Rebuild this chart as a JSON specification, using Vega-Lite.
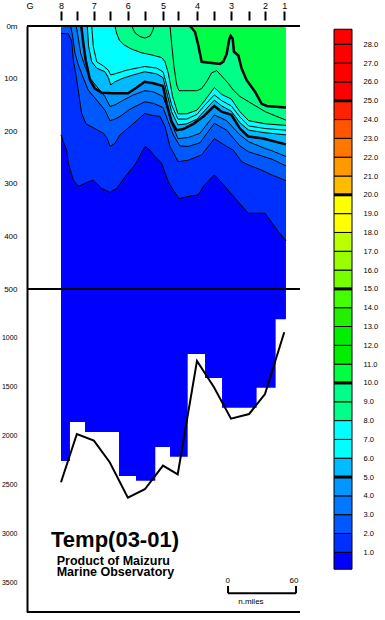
{
  "$schema": "https://vega.github.io/schema/vega-lite/v6.json",
  "width": 273,
  "height": 586,
  "autosize": {"type": "none"},
  "padding": {"left": 27, "top": 26, "right": 85, "bottom": 8},
  "background": "white",
  "config": {"view": {"stroke": null}, "font": "Liberation Sans", "text": {"font": "Liberation Sans", "color": "black"}},
  "datasets": {
    "bars": [
      {"dist": 0, "depth": 2257},
      {"dist": 7.9, "depth": 1859},
      {"dist": 21.2, "depth": 1961},
      {"dist": 36.1, "depth": 1961},
      {"dist": 51.2, "depth": 2410},
      {"dist": 66.2, "depth": 2458},
      {"dist": 83.2, "depth": 2114},
      {"dist": 96.2, "depth": 2213},
      {"dist": 111.8, "depth": 1164},
      {"dist": 127.1, "depth": 1409},
      {"dist": 142.1, "depth": 1712},
      {"dist": 158.0, "depth": 1712},
      {"dist": 172.6, "depth": 1508},
      {"dist": 189.4, "depth": 810},
      {"dist": 198.5, "depth": 810}
    ],
    "topo": [
      {"dist": 0, "depth": 2475}, {"dist": 14, "depth": 1981}, {"dist": 29, "depth": 2049},
      {"dist": 43, "depth": 2270}, {"dist": 59, "depth": 2632}, {"dist": 74, "depth": 2546},
      {"dist": 90, "depth": 2305}, {"dist": 103, "depth": 2393}, {"dist": 120, "depth": 1235},
      {"dist": 135, "depth": 1504}, {"dist": 150, "depth": 1825}, {"dist": 166, "depth": 1777},
      {"dist": 180, "depth": 1573}, {"dist": 197, "depth": 942}
    ],
    "bands": [
      {"t": 0, "lo": 0.1, "hi": 1}, {"t": 1, "lo": 1, "hi": 2}, {"t": 2, "lo": 2, "hi": 3},
      {"t": 3, "lo": 3, "hi": 4}, {"t": 4, "lo": 4, "hi": 5}, {"t": 5, "lo": 5, "hi": 6},
      {"t": 6, "lo": 6, "hi": 7}, {"t": 7, "lo": 7, "hi": 8}, {"t": 8, "lo": 8, "hi": 9},
      {"t": 9, "lo": 9, "hi": 10}, {"t": 10, "lo": 10, "hi": 11}, {"t": 11, "lo": 11, "hi": 12},
      {"t": 12, "lo": 12, "hi": 13}, {"t": 13, "lo": 13, "hi": 14}, {"t": 14, "lo": 14, "hi": 15},
      {"t": 15, "lo": 15, "hi": 16}, {"t": 16, "lo": 16, "hi": 17}, {"t": 17, "lo": 17, "hi": 18},
      {"t": 18, "lo": 18, "hi": 19}, {"t": 19, "lo": 19, "hi": 20}, {"t": 20, "lo": 20, "hi": 21},
      {"t": 21, "lo": 21, "hi": 22}, {"t": 22, "lo": 22, "hi": 23}, {"t": 23, "lo": 23, "hi": 24},
      {"t": 24, "lo": 24, "hi": 25}, {"t": 25, "lo": 25, "hi": 26}, {"t": 26, "lo": 26, "hi": 27},
      {"t": 27, "lo": 27, "hi": 28}, {"t": 28, "lo": 28, "hi": 28.8}
    ],
    "iso": [
      {"t":1,"s":"1","dist":0,"depth":207},{"t":1,"s":"1","dist":2.6,"depth":223},{"t":1,"s":"1","dist":5.0,"depth":236},
      {"t":1,"s":"1","dist":6.5,"depth":261},{"t":1,"s":"1","dist":10.9,"depth":293},{"t":1,"s":"1","dist":15.3,"depth":305},
      {"t":1,"s":"1","dist":21.2,"depth":299},{"t":1,"s":"1","dist":28.5,"depth":293},{"t":1,"s":"1","dist":35.9,"depth":309},
      {"t":1,"s":"1","dist":43.2,"depth":316},{"t":1,"s":"1","dist":49.1,"depth":309},{"t":1,"s":"1","dist":57.9,"depth":283},
      {"t":1,"s":"1","dist":65.3,"depth":264},{"t":1,"s":"1","dist":74.1,"depth":229},{"t":1,"s":"1","dist":78.5,"depth":236},
      {"t":1,"s":"1","dist":82.9,"depth":248},{"t":1,"s":"1","dist":88.8,"depth":261},{"t":1,"s":"1","dist":94.7,"depth":296},
      {"t":1,"s":"1","dist":99.1,"depth":312},{"t":1,"s":"1","dist":104.1,"depth":328},{"t":1,"s":"1","dist":112.4,"depth":324},
      {"t":1,"s":"1","dist":121.2,"depth":321},{"t":1,"s":"1","dist":125.6,"depth":305},{"t":1,"s":"1","dist":135.3,"depth":283},
      {"t":1,"s":"1","dist":144.7,"depth":305},{"t":1,"s":"1","dist":155.0,"depth":331},{"t":1,"s":"1","dist":165.3,"depth":356},
      {"t":1,"s":"1","dist":180.0,"depth":356},{"t":1,"s":"1","dist":191.8,"depth":391},{"t":1,"s":"1","dist":198.5,"depth":408},

      {"t":2,"s":"2","dist":0,"depth":14},{"t":2,"s":"2","dist":6.5,"depth":15},{"t":2,"s":"2","dist":9.4,"depth":28},
      {"t":2,"s":"2","dist":10.9,"depth":65},{"t":2,"s":"2","dist":13.2,"depth":93},{"t":2,"s":"2","dist":15.6,"depth":128},
      {"t":2,"s":"2","dist":18.2,"depth":166},{"t":2,"s":"2","dist":22.1,"depth":186},{"t":2,"s":"2","dist":29.1,"depth":194},
      {"t":2,"s":"2","dist":37.4,"depth":204},{"t":2,"s":"2","dist":40.9,"depth":214},{"t":2,"s":"2","dist":43.2,"depth":229},
      {"t":2,"s":"2","dist":47.6,"depth":223},{"t":2,"s":"2","dist":52.1,"depth":207},{"t":2,"s":"2","dist":60.9,"depth":191},
      {"t":2,"s":"2","dist":74.1,"depth":166},{"t":2,"s":"2","dist":78.5,"depth":169},{"t":2,"s":"2","dist":87.4,"depth":172},
      {"t":2,"s":"2","dist":91.8,"depth":191},{"t":2,"s":"2","dist":96.2,"depth":229},{"t":2,"s":"2","dist":103.5,"depth":258},
      {"t":2,"s":"2","dist":112.4,"depth":255},{"t":2,"s":"2","dist":124.1,"depth":245},{"t":2,"s":"2","dist":135.3,"depth":214},
      {"t":2,"s":"2","dist":146.2,"depth":229},{"t":2,"s":"2","dist":152.1,"depth":236},{"t":2,"s":"2","dist":159.4,"depth":258},
      {"t":2,"s":"2","dist":165.3,"depth":264},{"t":2,"s":"2","dist":177.1,"depth":274},{"t":2,"s":"2","dist":185.9,"depth":283},
      {"t":2,"s":"2","dist":198.5,"depth":294},

      {"t":3,"s":"3","dist":8.5,"depth":0},{"t":3,"s":"3","dist":10.3,"depth":20},{"t":3,"s":"3","dist":12.4,"depth":52},
      {"t":3,"s":"3","dist":15.3,"depth":74},{"t":3,"s":"3","dist":19.7,"depth":99},{"t":3,"s":"3","dist":24.1,"depth":122},
      {"t":3,"s":"3","dist":31.5,"depth":141},{"t":3,"s":"3","dist":38.8,"depth":160},{"t":3,"s":"3","dist":43.2,"depth":180},
      {"t":3,"s":"3","dist":47.6,"depth":177},{"t":3,"s":"3","dist":52.1,"depth":172},{"t":3,"s":"3","dist":60.9,"depth":158},
      {"t":3,"s":"3","dist":74.1,"depth":144},{"t":3,"s":"3","dist":81.5,"depth":147},{"t":3,"s":"3","dist":90.0,"depth":155},
      {"t":3,"s":"3","dist":94.7,"depth":182},{"t":3,"s":"3","dist":99.1,"depth":207},{"t":3,"s":"3","dist":104.9,"depth":228},
      {"t":3,"s":"3","dist":112.4,"depth":229},{"t":3,"s":"3","dist":122.6,"depth":222},{"t":3,"s":"3","dist":135.3,"depth":185},
      {"t":3,"s":"3","dist":146.2,"depth":198},{"t":3,"s":"3","dist":157.9,"depth":228},{"t":3,"s":"3","dist":165.3,"depth":239},
      {"t":3,"s":"3","dist":171.2,"depth":243},{"t":3,"s":"3","dist":185.9,"depth":253},{"t":3,"s":"3","dist":198.5,"depth":266},

      {"t":4,"s":"4","dist":13.5,"depth":0},{"t":4,"s":"4","dist":15.0,"depth":20},{"t":4,"s":"4","dist":17.4,"depth":52},
      {"t":4,"s":"4","dist":21.2,"depth":77},{"t":4,"s":"4","dist":25.6,"depth":99},{"t":4,"s":"4","dist":31.5,"depth":115},
      {"t":4,"s":"4","dist":38.8,"depth":134},{"t":4,"s":"4","dist":43.2,"depth":153},{"t":4,"s":"4","dist":47.6,"depth":150},
      {"t":4,"s":"4","dist":55.0,"depth":141},{"t":4,"s":"4","dist":63.8,"depth":131},{"t":4,"s":"4","dist":74.1,"depth":123},
      {"t":4,"s":"4","dist":81.5,"depth":125},{"t":4,"s":"4","dist":90.0,"depth":134},{"t":4,"s":"4","dist":93.2,"depth":153},
      {"t":4,"s":"4","dist":97.6,"depth":185},{"t":4,"s":"4","dist":103.2,"depth":214},{"t":4,"s":"4","dist":112.4,"depth":212},
      {"t":4,"s":"4","dist":122.6,"depth":204},{"t":4,"s":"4","dist":135.3,"depth":169},{"t":4,"s":"4","dist":146.2,"depth":180},
      {"t":4,"s":"4","dist":157.9,"depth":207},{"t":4,"s":"4","dist":165.6,"depth":220},{"t":4,"s":"4","dist":180.3,"depth":233},
      {"t":4,"s":"4","dist":185.9,"depth":237},{"t":4,"s":"4","dist":198.5,"depth":248},

      {"t":5,"s":"5","dist":17.9,"depth":0},{"t":5,"s":"5","dist":19.7,"depth":33},{"t":5,"s":"5","dist":21.8,"depth":65},
      {"t":5,"s":"5","dist":25.6,"depth":103},{"t":5,"s":"5","dist":30.0,"depth":119},{"t":5,"s":"5","dist":35.9,"depth":127},
      {"t":5,"s":"5","dist":46.2,"depth":128},{"t":5,"s":"5","dist":59.1,"depth":128},{"t":5,"s":"5","dist":66.8,"depth":117},
      {"t":5,"s":"5","dist":73.8,"depth":106},{"t":5,"s":"5","dist":81.5,"depth":109},{"t":5,"s":"5","dist":90.0,"depth":114},
      {"t":5,"s":"5","dist":93.2,"depth":147},{"t":5,"s":"5","dist":97.6,"depth":182},{"t":5,"s":"5","dist":102.1,"depth":198},
      {"t":5,"s":"5","dist":107.9,"depth":196},{"t":5,"s":"5","dist":116.8,"depth":186},{"t":5,"s":"5","dist":125.6,"depth":172},
      {"t":5,"s":"5","dist":135.3,"depth":152},{"t":5,"s":"5","dist":141.8,"depth":163},{"t":5,"s":"5","dist":150.3,"depth":169},
      {"t":5,"s":"5","dist":157.9,"depth":195},{"t":5,"s":"5","dist":165.3,"depth":210},{"t":5,"s":"5","dist":178.5,"depth":214},
      {"t":5,"s":"5","dist":198.5,"depth":225},

      {"t":6,"s":"6","dist":23.2,"depth":0},{"t":6,"s":"6","dist":24.4,"depth":39},{"t":6,"s":"6","dist":27.1,"depth":68},
      {"t":6,"s":"6","dist":31.5,"depth":80},{"t":6,"s":"6","dist":38.8,"depth":87},{"t":6,"s":"6","dist":41.8,"depth":98},
      {"t":6,"s":"6","dist":43.8,"depth":112},{"t":6,"s":"6","dist":47.6,"depth":106},{"t":6,"s":"6","dist":55.0,"depth":99},
      {"t":6,"s":"6","dist":63.8,"depth":93},{"t":6,"s":"6","dist":73.8,"depth":87},{"t":6,"s":"6","dist":84.4,"depth":91},
      {"t":6,"s":"6","dist":90.0,"depth":98},{"t":6,"s":"6","dist":93.2,"depth":125},{"t":6,"s":"6","dist":97.6,"depth":163},
      {"t":6,"s":"6","dist":103.2,"depth":188},{"t":6,"s":"6","dist":110.9,"depth":186},{"t":6,"s":"6","dist":120.0,"depth":177},
      {"t":6,"s":"6","dist":127.1,"depth":160},{"t":6,"s":"6","dist":135.3,"depth":141},{"t":6,"s":"6","dist":141.8,"depth":152},
      {"t":6,"s":"6","dist":150.3,"depth":162},{"t":6,"s":"6","dist":157.9,"depth":184},{"t":6,"s":"6","dist":165.6,"depth":198},
      {"t":6,"s":"6","dist":180.3,"depth":203},{"t":6,"s":"6","dist":198.5,"depth":207},

      {"t":7,"s":"7","dist":27.1,"depth":0},{"t":7,"s":"7","dist":28.5,"depth":39},{"t":7,"s":"7","dist":31.5,"depth":68},
      {"t":7,"s":"7","dist":37.4,"depth":76},{"t":7,"s":"7","dist":41.8,"depth":84},{"t":7,"s":"7","dist":43.8,"depth":93},
      {"t":7,"s":"7","dist":47.6,"depth":91},{"t":7,"s":"7","dist":57.9,"depth":84},{"t":7,"s":"7","dist":73.8,"depth":77},
      {"t":7,"s":"7","dist":84.4,"depth":80},{"t":7,"s":"7","dist":90.0,"depth":87},{"t":7,"s":"7","dist":93.2,"depth":112},
      {"t":7,"s":"7","dist":97.6,"depth":150},{"t":7,"s":"7","dist":103.2,"depth":177},{"t":7,"s":"7","dist":110.9,"depth":177},
      {"t":7,"s":"7","dist":120.0,"depth":168},{"t":7,"s":"7","dist":127.1,"depth":150},{"t":7,"s":"7","dist":135.3,"depth":131},
      {"t":7,"s":"7","dist":141.8,"depth":142},{"t":7,"s":"7","dist":150.3,"depth":152},{"t":7,"s":"7","dist":157.9,"depth":173},
      {"t":7,"s":"7","dist":165.6,"depth":190},{"t":7,"s":"7","dist":180.3,"depth":195},{"t":7,"s":"7","dist":198.5,"depth":198},

      {"t":8,"s":"8","dist":47.6,"depth":0},{"t":8,"s":"8","dist":49.1,"depth":14},{"t":8,"s":"8","dist":51.5,"depth":27},
      {"t":8,"s":"8","dist":55.6,"depth":36},{"t":8,"s":"8","dist":62.4,"depth":44},{"t":8,"s":"8","dist":71.2,"depth":51},
      {"t":8,"s":"8","dist":80.0,"depth":55},{"t":8,"s":"8","dist":88.8,"depth":60},{"t":8,"s":"8","dist":91.8,"depth":68},
      {"t":8,"s":"8","dist":94.7,"depth":90},{"t":8,"s":"8","dist":98.5,"depth":134},{"t":8,"s":"8","dist":103.2,"depth":167},
      {"t":8,"s":"8","dist":110.9,"depth":167},{"t":8,"s":"8","dist":120.0,"depth":160},{"t":8,"s":"8","dist":127.1,"depth":141},
      {"t":8,"s":"8","dist":135.3,"depth":117},{"t":8,"s":"8","dist":141.8,"depth":130},{"t":8,"s":"8","dist":150.3,"depth":139},
      {"t":8,"s":"8","dist":157.9,"depth":163},{"t":8,"s":"8","dist":165.6,"depth":180},{"t":8,"s":"8","dist":180.3,"depth":186},
      {"t":8,"s":"8","dist":198.5,"depth":189},

      {"t":9,"s":"9b","dist":62.4,"depth":0},{"t":9,"s":"9b","dist":65.3,"depth":13},{"t":9,"s":"9b","dist":69.7,"depth":20},
      {"t":9,"s":"9b","dist":74.1,"depth":23},{"t":9,"s":"9b","dist":78.5,"depth":19},{"t":9,"s":"9b","dist":80.9,"depth":9},
      {"t":9,"s":"9b","dist":82.1,"depth":0},

      {"t":9,"s":"9","dist":96.2,"depth":0},{"t":9,"s":"9","dist":97.6,"depth":33},{"t":9,"s":"9","dist":99.7,"depth":77},
      {"t":9,"s":"9","dist":102.1,"depth":112},{"t":9,"s":"9","dist":104.1,"depth":123},{"t":9,"s":"9","dist":119.7,"depth":123},
      {"t":9,"s":"9","dist":124.1,"depth":119},{"t":9,"s":"9","dist":128.5,"depth":106},{"t":9,"s":"9","dist":132.9,"depth":89},
      {"t":9,"s":"9","dist":137.4,"depth":85},{"t":9,"s":"9","dist":141.8,"depth":95},{"t":9,"s":"9","dist":147.6,"depth":109},
      {"t":9,"s":"9","dist":152.1,"depth":122},{"t":9,"s":"9","dist":157.9,"depth":134},{"t":9,"s":"9","dist":165.6,"depth":144},
      {"t":9,"s":"9","dist":180.3,"depth":163},{"t":9,"s":"9","dist":198.5,"depth":179},

      {"t":10,"s":"10","dist":113.8,"depth":0},{"t":10,"s":"10","dist":118.2,"depth":11},{"t":10,"s":"10","dist":121.2,"depth":37},
      {"t":10,"s":"10","dist":124.1,"depth":68},{"t":10,"s":"10","dist":140.3,"depth":72},{"t":10,"s":"10","dist":143.2,"depth":68},
      {"t":10,"s":"10","dist":146.2,"depth":53},{"t":10,"s":"10","dist":148.5,"depth":25},{"t":10,"s":"10","dist":149.7,"depth":19},
      {"t":10,"s":"10","dist":151.5,"depth":24},{"t":10,"s":"10","dist":152.6,"depth":49},{"t":10,"s":"10","dist":156.5,"depth":56},
      {"t":10,"s":"10","dist":159.4,"depth":81},{"t":10,"s":"10","dist":163.8,"depth":103},{"t":10,"s":"10","dist":171.2,"depth":125},
      {"t":10,"s":"10","dist":177.1,"depth":148},{"t":10,"s":"10","dist":181.5,"depth":152},{"t":10,"s":"10","dist":198.5,"depth":155}
    ]
  },
  "layer": [
    {
      "encoding": {
        "x": {
          "field": "dist", "type": "quantitative",
          "scale": {"domain": [-30, 210.9], "nice": false, "zero": false},
          "axis": {
            "orient": "top", "offset": 6, "domain": false, "grid": false, "title": null,
            "values": [-27.8, 0, 14, 29, 43, 59, 74, 90, 103, 120, 135, 150, 166, 180, 197],
            "labelExpr": "datum.value < 0 ? 'G' : ['8','','7','','6','','5','','4','','3','','2','1'][indexof([0,14,29,43,59,74,90,103,120,135,150,166,180,197], datum.value)]",
            "tickSize": 9, "tickWidth": 2, "tickColor": "black",
            "tickOpacity": {"condition": {"test": "datum.value < 0", "value": 0}, "value": 1},
            "labelFont": "Liberation Sans", "labelFontSize": 9, "labelColor": "black", "labelPadding": 1,
            "labelFlush": false, "labelOverlap": false
          }
        },
        "y": {
          "field": "depth", "type": "quantitative",
          "scale": {"domain": [0, 500, 3800], "range": [0, 263, 586], "nice": false, "zero": false},
          "axis": {
            "orient": "left", "grid": false, "title": null, "domain": true, "domainColor": "black", "domainWidth": 2,
            "ticks": false, "tickSize": 0, "labelPadding": 10,
            "values": [0, 100, 200, 300, 400, 500, 1000, 1500, 2000, 2500, 3000, 3500],
            "format": "d",
            "labelExpr": "datum.value == 0 ? '0m' : datum.label",
            "labelFont": "Liberation Sans", "labelColor": "black",
            "labelFontSize": {"condition": {"test": "datum.value >= 1000", "value": 7}, "value": 8},
            "labelFlush": false, "labelOverlap": false
          }
        }
      },
      "layer": [
        {
          "data": {"name": "bars"},
          "mark": {"type": "area", "color": "#0000FF", "interpolate": "step-after"},
          "encoding": {"y2": {"datum": 0}}
        },
        {"data": {"name": "iso"}, "transform": [{"filter": "datum.t == 1"}], "mark": {"type": "area"},
         "encoding": {"y2": {"datum": 0}, "detail": {"field": "s"}, "color": {"field": "t", "type": "ordinal", "legend": null,
           "scale": {"domain": [0,1,2,3,4,5,6,7,8,9,10,11,12,13,14,15,16,17,18,19,20,21,22,23,24,25,26,27,28],
             "range": ["#0000FF","#0030FF","#0058FF","#0078FF","#0098FF","#00BBFF","#00FFFF","#00FFFF","#00FF88","#00FF88","#00FF44","#00EE00","#00EE00","#22F000","#44FF00","#77FF00","#99FF00","#BBFF00","#FFFF00","#FFFF00","#FFBB00","#FF9900","#FF7700","#FF5500","#FF2200","#FF0000","#FF0000","#FF0000","#FF0000"]}}}},
        {"data": {"name": "iso"}, "transform": [{"filter": "datum.t == 2"}], "mark": {"type": "area"},
         "encoding": {"y2": {"datum": 0}, "detail": {"field": "s"}, "color": {"field": "t", "type": "ordinal", "legend": null}}},
        {"data": {"name": "iso"}, "transform": [{"filter": "datum.t == 3"}], "mark": {"type": "area"},
         "encoding": {"y2": {"datum": 0}, "detail": {"field": "s"}, "color": {"field": "t", "type": "ordinal", "legend": null}}},
        {"data": {"name": "iso"}, "transform": [{"filter": "datum.t == 4"}], "mark": {"type": "area"},
         "encoding": {"y2": {"datum": 0}, "detail": {"field": "s"}, "color": {"field": "t", "type": "ordinal", "legend": null}}},
        {"data": {"name": "iso"}, "transform": [{"filter": "datum.t == 5"}], "mark": {"type": "area"},
         "encoding": {"y2": {"datum": 0}, "detail": {"field": "s"}, "color": {"field": "t", "type": "ordinal", "legend": null}}},
        {"data": {"name": "iso"}, "transform": [{"filter": "datum.t == 6"}], "mark": {"type": "area"},
         "encoding": {"y2": {"datum": 0}, "detail": {"field": "s"}, "color": {"field": "t", "type": "ordinal", "legend": null}}},
        {"data": {"name": "iso"}, "transform": [{"filter": "datum.t == 7"}], "mark": {"type": "area"},
         "encoding": {"y2": {"datum": 0}, "detail": {"field": "s"}, "color": {"field": "t", "type": "ordinal", "legend": null}}},
        {"data": {"name": "iso"}, "transform": [{"filter": "datum.t == 8"}], "mark": {"type": "area"},
         "encoding": {"y2": {"datum": 0}, "detail": {"field": "s"}, "color": {"field": "t", "type": "ordinal", "legend": null}}},
        {"data": {"name": "iso"}, "transform": [{"filter": "datum.t == 9"}], "mark": {"type": "area"},
         "encoding": {"y2": {"datum": 0}, "detail": {"field": "s"}, "color": {"field": "t", "type": "ordinal", "legend": null}}},
        {"data": {"name": "iso"}, "transform": [{"filter": "datum.t == 10"}], "mark": {"type": "area"},
         "encoding": {"y2": {"datum": 0}, "detail": {"field": "s"}, "color": {"field": "t", "type": "ordinal", "legend": null}}},
        {
          "data": {"name": "iso"},
          "mark": {"type": "line", "color": "black"},
          "encoding": {
            "detail": {"field": "s"},
            "strokeWidth": {"condition": {"test": "datum.t == 5 || datum.t == 10", "value": 2.5}, "value": 1}
          }
        },
        {
          "data": {"name": "topo"},
          "mark": {"type": "line", "color": "black", "strokeWidth": 2},
          "encoding": {}
        },
        {
          "data": {"values": [{"depth": 0}, {"depth": 500}, {"depth": 3800}]},
          "mark": {"type": "rule", "color": "black", "strokeWidth": 2},
          "encoding": {"x": null}
        },
        {
          "data": {"values": [{"dist": -8.8, "depth": 3140, "label": "Temp(03-01)"}]},
          "mark": {"type": "text", "align": "left", "baseline": "alphabetic", "fontSize": 22, "fontWeight": "bold", "font": "Liberation Sans", "color": "black"},
          "encoding": {"text": {"field": "label"}}
        },
        {
          "data": {"values": [
            {"dist": -3.8, "depth": 3319, "label": "Product of Maizuru\nMarine Observatory"}
          ]},
          "mark": {"type": "text", "align": "left", "baseline": "alphabetic", "fontSize": 12.5, "fontWeight": "bold", "font": "Liberation Sans", "color": "black", "lineBreak": "\n", "lineHeight": 11},
          "encoding": {"text": {"field": "label"}}
        },
        {
          "data": {"values": [
            {"dist": 147.1, "depth": 3483, "label": "0"},
            {"dist": 205.6, "depth": 3483, "label": "60"},
            {"dist": 167.6, "depth": 3700, "label": "n.miles"}
          ]},
          "mark": {"type": "text", "align": "center", "baseline": "middle", "fontSize": 8, "font": "Liberation Sans", "color": "black"},
          "encoding": {"text": {"field": "label"}}
        },
        {
          "data": {"values": [
            {"dist": 147.4, "dist2": 207.4, "depth": 3608, "depth2": 3608},
            {"dist": 147.4, "dist2": 147.4, "depth": 3534, "depth2": 3608},
            {"dist": 207.4, "dist2": 207.4, "depth": 3534, "depth2": 3608}
          ]},
          "mark": {"type": "rule", "color": "black", "strokeWidth": 2},
          "encoding": {"x2": {"field": "dist2"}, "y2": {"field": "depth2"}}
        }
      ]
    },
    {
      "data": {"name": "bands"},
      "encoding": {
        "x": {"datum": 0, "type": "quantitative", "scale": {"domain": [0, 1], "range": [307, 325], "nice": false, "zero": false}, "axis": null},
        "y": {
          "field": "lo", "type": "quantitative",
          "scale": {"domain": [0, 28], "range": [545.1, 18.3], "nice": false, "zero": false},
          "axis": {
            "orient": "right", "offset": 52, "domain": false, "ticks": false, "tickSize": 0, "grid": false, "title": null,
            "values": [1,2,3,4,5,6,7,8,9,10,11,12,13,14,15,16,17,18,19,20,21,22,23,24,25,26,27,28],
            "format": ".1f", "labelPadding": 11, "labelFont": "Liberation Sans", "labelFontSize": 7.5,
            "labelColor": "black", "labelFlush": false, "labelOverlap": false
          }
        }
      },
      "layer": [
        {
          "mark": {"type": "rect", "stroke": "black", "strokeWidth": 1},
          "encoding": {
            "x2": {"datum": 1},
            "y2": {"field": "hi"},
            "color": {"field": "t", "type": "ordinal", "legend": null,
              "scale": {"domain": [0,1,2,3,4,5,6,7,8,9,10,11,12,13,14,15,16,17,18,19,20,21,22,23,24,25,26,27,28],
                "range": ["#0000FF","#0030FF","#0058FF","#0078FF","#0098FF","#00BBFF","#00FFFF","#00FFFF","#00FF88","#00FF88","#00FF44","#00EE00","#00EE00","#22F000","#44FF00","#77FF00","#99FF00","#BBFF00","#FFFF00","#FFFF00","#FFBB00","#FF9900","#FF7700","#FF5500","#FF2200","#FF0000","#FF0000","#FF0000","#FF0000"]}}
          }
        },
        {
          "transform": [{"filter": "datum.t % 5 == 0 && datum.t > 0"}],
          "mark": {"type": "rule", "color": "black", "strokeWidth": 3},
          "encoding": {"x2": {"datum": 1}}
        },
        {
          "data": {"values": [{"u": "°C"}]},
          "mark": {"type": "text", "align": "center", "baseline": "middle", "fontSize": 8, "font": "Liberation Sans", "color": "black"},
          "encoding": {
            "text": {"field": "u"},
            "x": {"datum": 1.86, "type": "quantitative", "scale": {"domain": [0, 1], "range": [307, 325], "nice": false, "zero": false}, "axis": null},
            "y": {"datum": 29.3, "type": "quantitative",
              "scale": {"domain": [0, 28], "range": [545.1, 18.3], "nice": false, "zero": false},
              "axis": {
                "orient": "right", "offset": 52, "domain": false, "ticks": false, "tickSize": 0, "grid": false, "title": null,
                "values": [1,2,3,4,5,6,7,8,9,10,11,12,13,14,15,16,17,18,19,20,21,22,23,24,25,26,27,28],
                "format": ".1f", "labelPadding": 11, "labelFont": "Liberation Sans", "labelFontSize": 7.5,
                "labelColor": "black", "labelFlush": false, "labelOverlap": false
              }
            }
          }
        }
      ]
    }
  ],
  "resolve": {"scale": {"x": "independent", "y": "independent"}}
}
